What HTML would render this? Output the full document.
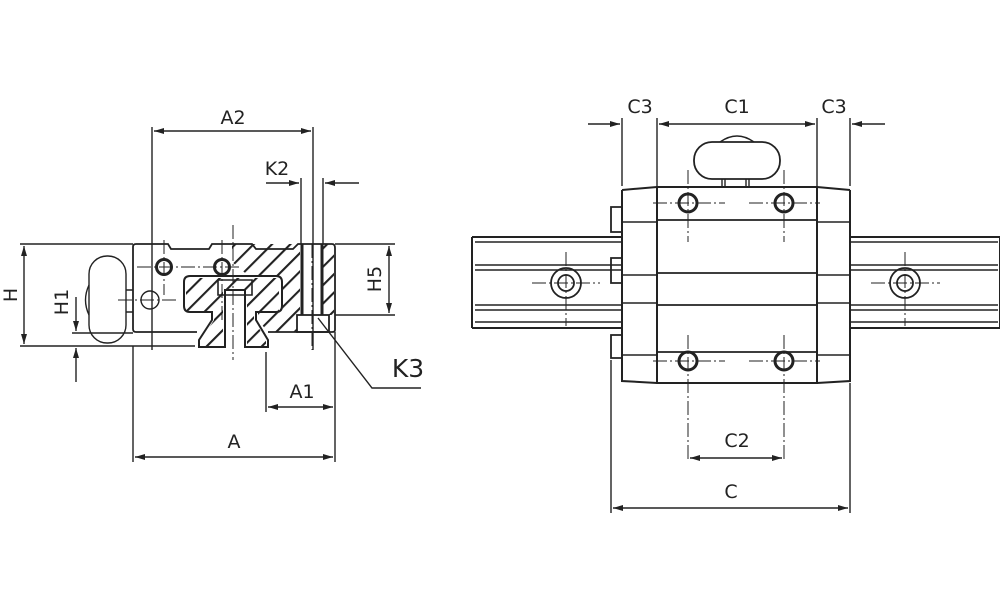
<!DOCTYPE html>
<html><head><meta charset="utf-8"><style>
html,body{margin:0;padding:0;background:#fff}
svg{display:block}
text{font-family:"DejaVu Sans","Liberation Sans",sans-serif;font-size:19px;fill:#222}
</style></head><body>
<svg width="1000" height="611" viewBox="0 0 1000 611" xmlns="http://www.w3.org/2000/svg">
<defs>
<pattern id="h" patternUnits="userSpaceOnUse" width="13" height="13" patternTransform="rotate(45)">
<line x1="1" y1="0" x2="1" y2="13" stroke="#222" stroke-width="2.2"/>
</pattern>
<marker id="a" viewBox="0 0 10 6" refX="10" refY="3" markerWidth="10" markerHeight="6" orient="auto-start-reverse" markerUnits="userSpaceOnUse">
<path d="M0,0 L10,3 L0,6 z" fill="#222"/>
</marker>
</defs>
<g stroke="#222" fill="none" stroke-width="1.4">
<path d="M232,244 L300,244 L300,315 L297,315 L297,332 L268,332 L258,320 L258,312 L281,312 L281,277 L250,277 L232,262 Z" fill="url(#h)" stroke="none"/>
<rect x="323" y="244" width="11" height="71" fill="url(#h)" stroke="none"/>
<path d="M186,278 L279,278 L279,311 L254,311 L254,320 L266,340 L266,347 L247,347 L247,290 L223,290 L223,347 L201,347 L201,340 L214,320 L214,311 L186,311 Z" fill="url(#h)" stroke="none"/>
<rect x="223" y="290" width="24" height="57" fill="#fff" stroke="none"/>
<path d="M136,244 L168,244 L171,249 L209,249 L212,244 L252,244 L256,249 L293,249 L298,244 L332,244 Q335,244 335,248 L335,330 Q335,332 332,332 L268,332 M197,332 L136,332 Q133,332 133,329 L133,247 Q133,244 136,244" stroke-width="1.8"/>
<path d="M190,276 L276,276 Q282,276 282,282 L282,306 Q282,312 276,312 L256,312 L256,320 L268,340 L268,347 L245,347 L245,290 L225,290 L225,347 L199,347 L199,340 L212,320 L212,312 L190,312 Q184,312 184,306 L184,282 Q184,276 190,276 Z" stroke-width="2"/>
<path d="M225,290 L225,347 M245,290 L245,347 M218,280 L252,280 L252,295 L218,295 Z" stroke-width="1.6"/>
<path d="M302,244 L302,315 M322,244 L322,315" stroke-width="3"/>
<rect x="297" y="315" width="32" height="17" stroke-width="1.8"/>
<circle cx="164" cy="267" r="7.5" stroke-width="3"/>
<circle cx="222" cy="267" r="7.5" stroke-width="3"/>
<circle cx="150" cy="300" r="9"/>
<path d="M137,267 L240,267 M164,240 L164,295 M222,240 L222,320 M118,300 L176,300" stroke-width="1" stroke-dasharray="14 3 2 3"/>
<path d="M233,225 L233,360 M312,244 L312,350" stroke-width="1" stroke-dasharray="14 3 2 3"/>
<rect x="89" y="256" width="37" height="87" rx="18"/>
<path d="M89,285 Q82,300 89,315"/>
<path d="M126,290 L133,290 M126,312 L133,312"/>
<path d="M20,244 L133,244 M20,346 L195,346 M335,244 L395,244 M335,315 L395,315 M72,333 L133,333"/>
<line x1="24" y1="246" x2="24" y2="344" marker-start="url(#a)" marker-end="url(#a)"/>
<line x1="389" y1="246" x2="389" y2="313" marker-start="url(#a)" marker-end="url(#a)"/>
<line x1="76" y1="297" x2="76" y2="331" marker-end="url(#a)"/>
<line x1="76" y1="382" x2="76" y2="348" marker-end="url(#a)"/>
<path d="M152,127 L152,350 M313,127 L313,350 M301,178 L301,244 M323,178 L323,244 M133,346 L133,462 M335,332 L335,462 M266,352 L266,412"/>
<line x1="154" y1="131" x2="311" y2="131" marker-start="url(#a)" marker-end="url(#a)"/>
<line x1="266" y1="183" x2="299" y2="183" marker-end="url(#a)"/>
<line x1="359" y1="183" x2="325" y2="183" marker-end="url(#a)"/>
<line x1="268" y1="407" x2="333" y2="407" marker-start="url(#a)" marker-end="url(#a)"/>
<line x1="135" y1="457" x2="333" y2="457" marker-start="url(#a)" marker-end="url(#a)"/>
<path d="M318,318 L372,388 L421,388"/>

<path d="M472,237 L622,237 M472,328 L622,328 M472,237 L472,328 M850,237 L1000,237 M850,328 L1000,328 M1000,237 L1000,328" stroke-width="2"/>
<path d="M475,242 L622,242 M475,265 L622,265 M475,270 L622,270 M475,305 L622,305 M475,310 L622,310 M475,322 L622,322 M850,242 L998,242 M850,265 L998,265 M850,270 L998,270 M850,305 L998,305 M850,310 L998,310 M850,322 L998,322"/>
<circle cx="566" cy="283" r="15" stroke-width="1.8"/>
<circle cx="566" cy="283" r="8" stroke-width="1.8"/>
<circle cx="905" cy="283" r="15" stroke-width="1.8"/>
<circle cx="905" cy="283" r="8" stroke-width="1.8"/>
<path d="M532,283 L600,283 M566,252 L566,326 M871,283 L940,283 M905,252 L905,326" stroke-width="1" stroke-dasharray="14 3 2 3"/>
<path d="M622,207 L611,207 L611,232 L622,232 M622,258 L611,258 L611,283 L622,283 M622,335 L611,335 L611,358 L622,358" stroke-width="1.8"/>
<path d="M622,190 L622,381 L657,383 M622,190 L657,187 M850,190 L850,381 L817,383 M850,190 L817,187" stroke-width="2"/>
<path d="M622,222 L657,222 M622,275 L657,275 M622,303 L657,303 M622,355 L657,355 M817,222 L850,222 M817,275 L850,275 M817,303 L850,303 M817,355 L850,355"/>
<rect x="657" y="187" width="160" height="196" stroke-width="2"/>
<path d="M657,220 L817,220 M657,273 L817,273 M657,305 L817,305 M657,352 L817,352" stroke-width="1.8"/>
<circle cx="688" cy="203" r="9" stroke-width="3"/>
<circle cx="784" cy="203" r="9" stroke-width="3"/>
<circle cx="688" cy="361" r="9" stroke-width="3"/>
<circle cx="784" cy="361" r="9" stroke-width="3"/>
<path d="M653,203 L725,203 M749,203 L820,203 M653,361 L725,361 M749,361 L820,361 M688,170 L688,242 M784,170 L784,242 M688,335 L688,462 M784,335 L784,462" stroke-width="1" stroke-dasharray="14 3 2 3"/>
<rect x="694" y="142" width="86" height="37" rx="18" stroke-width="1.8"/>
<path d="M720,142 Q737,130 754,142"/>
<path d="M722,179 L722,187 M725,179 L725,187 M746,179 L746,187 M749,179 L749,187"/>
<path d="M622,118 L622,186 M657,118 L657,186 M817,118 L817,186 M850,118 L850,186 M611,360 L611,513 M850,383 L850,513"/>
<line x1="588" y1="124" x2="620" y2="124" marker-end="url(#a)"/>
<line x1="659" y1="124" x2="815" y2="124" marker-start="url(#a)" marker-end="url(#a)"/>
<line x1="885" y1="124" x2="852" y2="124" marker-end="url(#a)"/>
<line x1="690" y1="458" x2="782" y2="458" marker-start="url(#a)" marker-end="url(#a)"/>
<line x1="613" y1="508" x2="848" y2="508" marker-start="url(#a)" marker-end="url(#a)"/>
</g>
<g>
<text x="233" y="124" text-anchor="middle">A2</text>
<text x="277" y="175" text-anchor="middle">K2</text>
<text x="302" y="398" text-anchor="middle">A1</text>
<text x="234" y="448" text-anchor="middle">A</text>
<text x="408" y="377" text-anchor="middle" style="font-size:25px">K3</text>
<text transform="translate(17,295) rotate(-90)" text-anchor="middle">H</text>
<text transform="translate(68,302) rotate(-90)" text-anchor="middle">H1</text>
<text transform="translate(381,279) rotate(-90)" text-anchor="middle">H5</text>
<text x="640" y="113" text-anchor="middle">C3</text>
<text x="737" y="113" text-anchor="middle">C1</text>
<text x="834" y="113" text-anchor="middle">C3</text>
<text x="737" y="447" text-anchor="middle">C2</text>
<text x="731" y="498" text-anchor="middle">C</text>
</g>
</svg>
</body></html>
